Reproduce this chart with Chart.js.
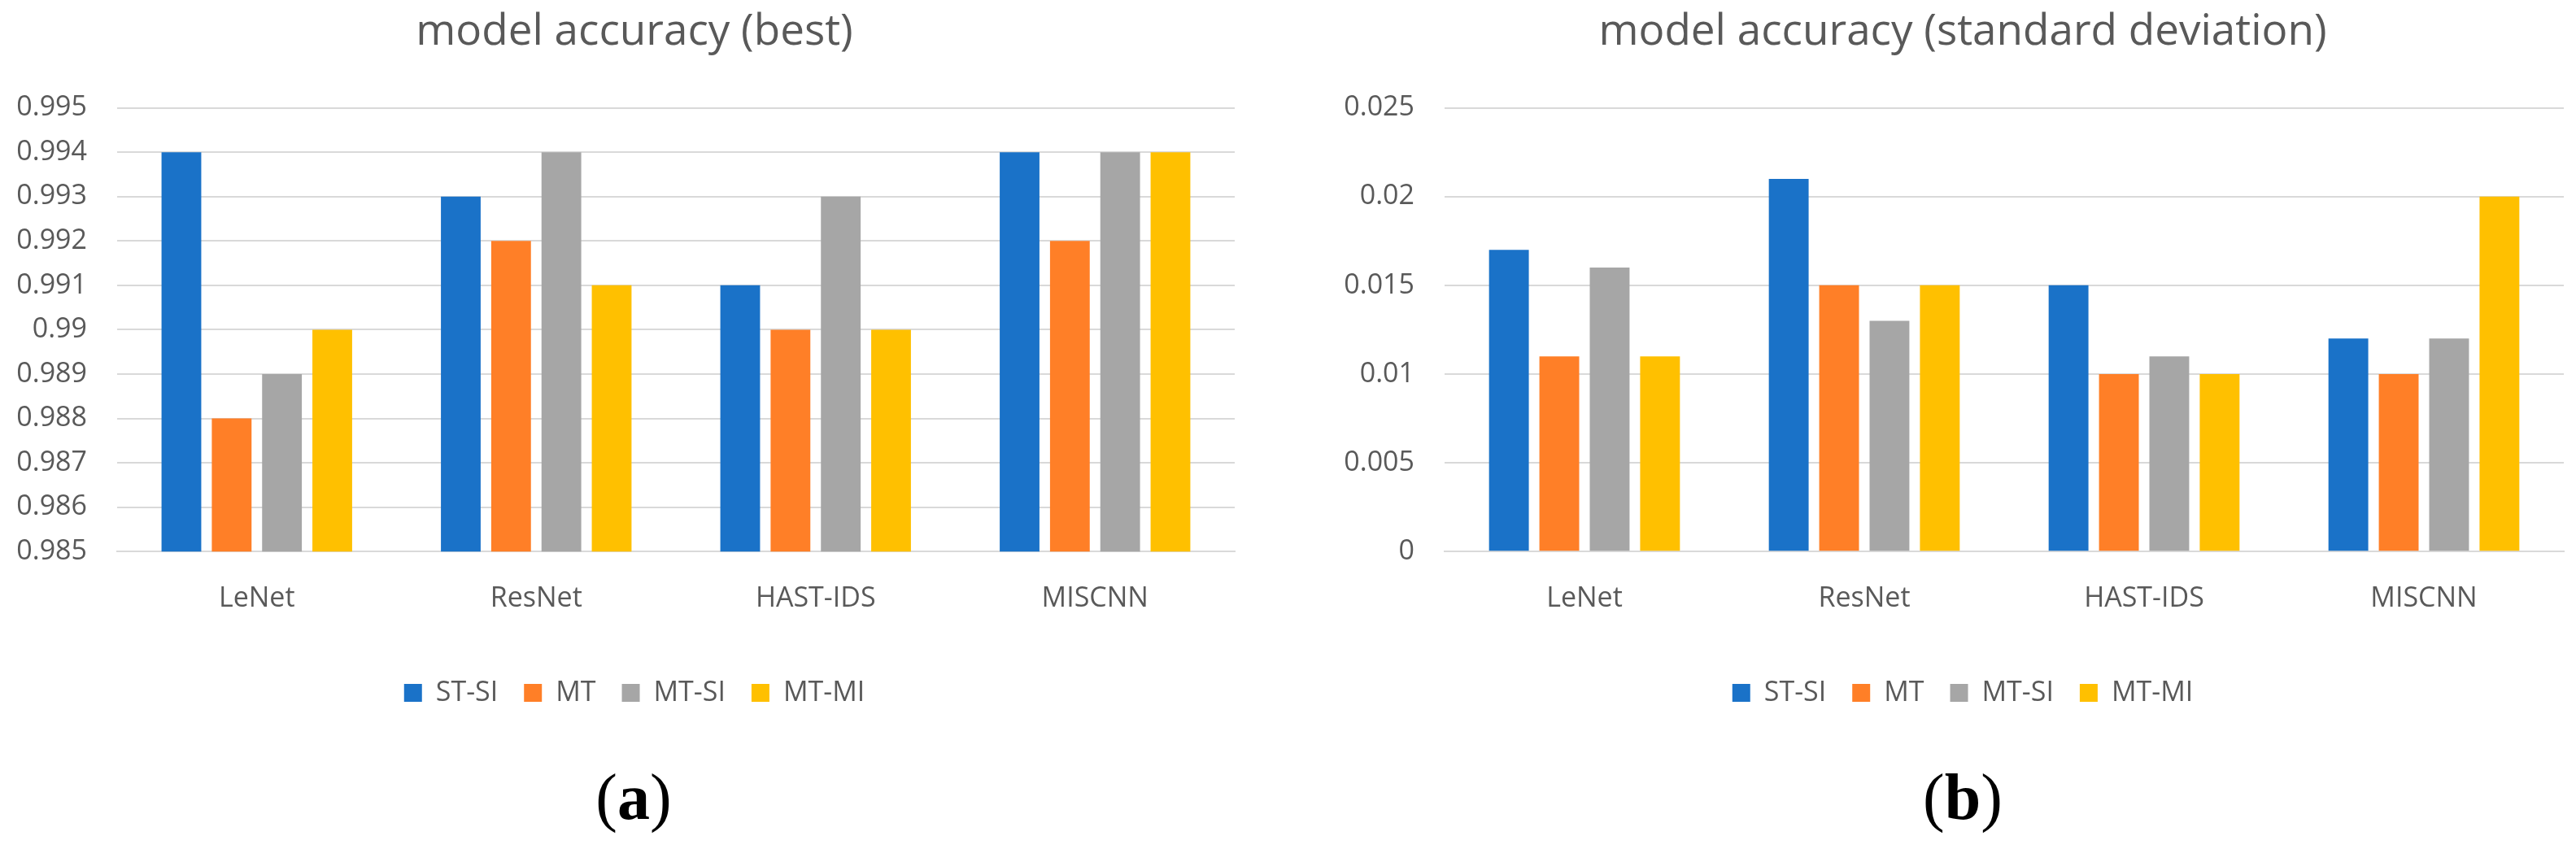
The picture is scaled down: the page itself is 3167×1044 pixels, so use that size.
<!DOCTYPE html>
<html lang="en">
<head>
    <meta charset="UTF-8">
    <title>model accuracy</title>
    <script src="https://cdn.jsdelivr.net/npm/chart.js"></script>
    <style>
        body {
            margin: 0;
            background: #fff;
            width: 3167px;
            height: 1044px;
            position: relative;
            overflow: hidden;
        }
        .painel {
            position: absolute;
            top: 0;
        }
        .rotulo {
            position: absolute;
            top: 940px;
            width: 200px;
            text-align: center;
            font-family: "Liberation Serif", "DejaVu Serif", serif;
            font-size: 80px;
            color: #000;
            line-height: 1;
        }
        .rotulo b { font-weight: bold; }
    </style>
</head>
<body>
    <div class="painel" style="left:0px"><canvas id="graficoMelhor" width="1583" height="900"></canvas></div>
    <div class="painel" style="left:1583px"><canvas id="graficoDesvio" width="1584" height="900"></canvas></div>
    <div class="rotulo" style="left:679px">(<b>a</b>)</div>
    <div class="rotulo" style="left:2313px">(<b>b</b>)</div>

    <script>
        const modelos = ['LeNet', 'ResNet', 'HAST-IDS', 'MISCNN'];
        const metodos = ['ST-SI', 'MT', 'MT-SI', 'MT-MI'];
        const cores = ['#1a72c8', '#ff7f27', '#a6a6a6', '#ffc000'];

        // model accuracy (best)
        const melhorSTSI = [0.994, 0.993, 0.991, 0.994];
        const melhorMT   = [0.988, 0.992, 0.990, 0.992];
        const melhorMTSI = [0.989, 0.994, 0.993, 0.994];
        const melhorMTMI = [0.990, 0.991, 0.990, 0.994];
        const ticksMelhor = ['0.985', '0.986', '0.987', '0.988', '0.989', '0.99', '0.991', '0.992', '0.993', '0.994', '0.995'];

        // model accuracy (standard deviation)
        const desvioSTSI = [0.017, 0.021, 0.015, 0.012];
        const desvioMT   = [0.011, 0.015, 0.010, 0.010];
        const desvioMTSI = [0.016, 0.013, 0.011, 0.012];
        const desvioMTMI = [0.011, 0.015, 0.010, 0.020];
        const ticksDesvio = ['0', '0.005', '0.01', '0.015', '0.02', '0.025'];

        const cinzaTexto = '#595959';
        const cinzaGrade = '#d9d9d9';
        const fonte = { family: 'Open Sans', size: 34 };

        function montarGrafico(id, titulo, series, ticks, padEsq, padDir) {
            const ctx = document.getElementById(id).getContext('2d');
            return new Chart(ctx, {
                type: 'bar',
                data: {
                    labels: modelos,
                    datasets: series.map((s, i) => ({
                        label: metodos[i],
                        data: s,
                        backgroundColor: cores[i],
                        borderWidth: 0,
                        categoryPercentage: 0.72,
                        barPercentage: 0.79
                    }))
                },
                options: {
                    responsive: false,
                    animation: false,
                    devicePixelRatio: 1,
                    layout: {
                        padding: { left: padEsq, right: padDir, top: 0, bottom: 21 }
                    },
                    plugins: {
                        title: {
                            display: true,
                            text: titulo,
                            color: cinzaTexto,
                            font: { family: 'Open Sans', size: 53, weight: 'normal' },
                            padding: { top: 8, bottom: 61 }
                        },
                        legend: {
                            display: true,
                            position: 'bottom',
                            labels: {
                                color: cinzaTexto,
                                font: fonte,
                                boxWidth: 22,
                                boxHeight: 22,
                                padding: 32
                            }
                        },
                        tooltip: { enabled: false }
                    },
                    scales: {
                        x: {
                            grid: { display: false },
                            border: { display: true, color: cinzaGrade, width: 2 },
                            ticks: { color: cinzaTexto, font: fonte, padding: 30 },
                            afterFit: (escala) => { escala.height += 16; }
                        },
                        y: {
                            min: +ticks[0],
                            max: +ticks[ticks.length - 1],
                            grid: { color: cinzaGrade, lineWidth: 2, drawTicks: false },
                            border: { display: false },
                            afterBuildTicks: (escala) => {
                                escala.ticks = ticks.map(t => ({ value: +t }));
                            },
                            ticks: {
                                color: cinzaTexto,
                                font: fonte,
                                padding: 37,
                                callback: (v, i) => ticks[i]
                            },
                            afterFit: (escala) => { escala.width = 102; },
                            // labels are wider than the axis box; don't clip them
                            afterUpdate: (escala) => { escala._computeLabelArea = () => null; }
                        }
                    }
                }
            });
        }

        montarGrafico('graficoMelhor', 'model accuracy (best)',
            [melhorSTSI, melhorMT, melhorMTSI, melhorMTMI], ticksMelhor, 42, 65);
        montarGrafico('graficoDesvio', 'model accuracy (standard deviation)',
            [desvioSTSI, desvioMT, desvioMTSI, desvioMTMI], ticksDesvio, 91, 15);
    </script>
</body>
</html>
